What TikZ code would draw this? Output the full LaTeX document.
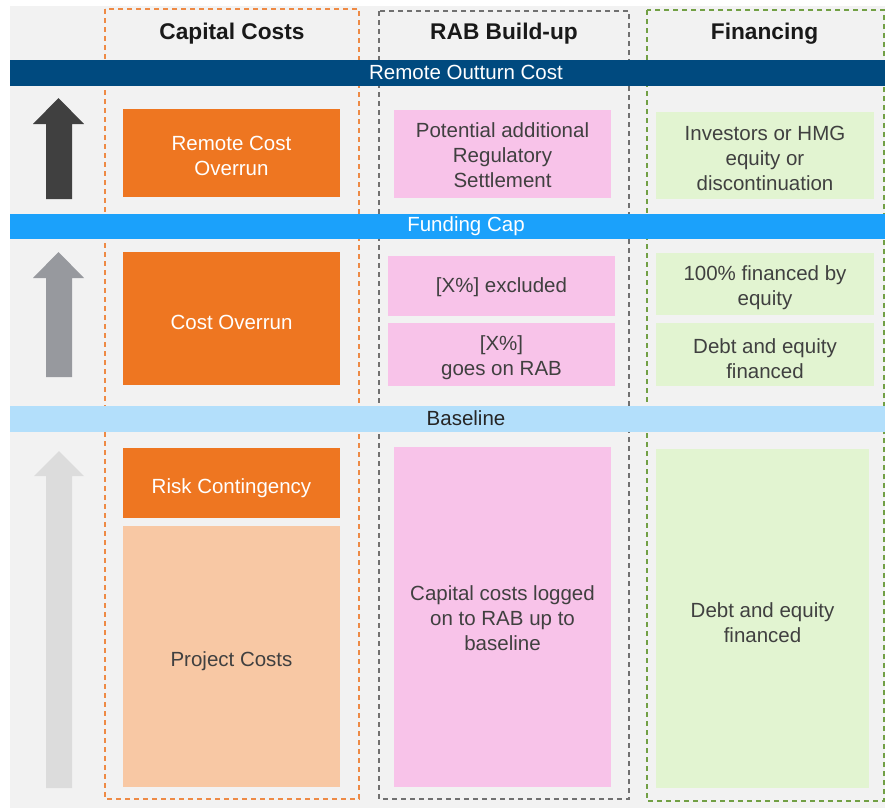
\documentclass[tikz,border=0pt]{standalone}
\usepackage{fontspec}
\setmainfont{Liberation Sans}
\definecolor{bgc}{HTML}{F2F2F2}
\definecolor{navyc}{HTML}{004A7F}
\definecolor{fundc}{HTML}{1BA1FB}
\definecolor{basec}{HTML}{B3DFFB}
\definecolor{orc}{HTML}{EE7621}
\definecolor{peachc}{HTML}{F8C8A4}
\definecolor{pinkc}{HTML}{F8C3E9}
\definecolor{greenc}{HTML}{E2F4D1}
\definecolor{arrdark}{HTML}{404040}
\definecolor{arrmid}{HTML}{97999E}
\definecolor{arrlight}{HTML}{DCDCDC}
\definecolor{txtc}{HTML}{404040}
\definecolor{orline}{HTML}{EE8A45}
\definecolor{greyline}{HTML}{707070}
\definecolor{greenline}{HTML}{72A045}
\begin{document}
\begin{tikzpicture}[x=1pt,y=-1pt,
  bodyfont/.style={font=\fontsize{20.5}{25}\selectfont},
  box/.style={rectangle, inner sep=0pt},
  boxtxt/.style={inner sep=0pt, align=center, bodyfont, text=txtc},
  colframe/.style={dashed, dash pattern=on 5pt off 4pt, line width=1.2pt},
  head/.style={font=\fontsize{22.7}{26}\selectfont\bfseries, text=black!90, inner sep=0pt},
  band/.style={rectangle, inner sep=0pt, minimum width=875pt, minimum height=26pt},
  bandtxt/.style={bodyfont, inner sep=0pt}
]
\useasboundingbox (0,0) rectangle (885,809);
\fill[white] (0,0) rectangle (885,809);
\fill[bgc] (10,6) rectangle (885,808);

% column frames
\draw[colframe, orline] (105,9) rectangle (359,799);
\draw[colframe, greyline] (379,11) rectangle (629,799);
\draw[colframe, greenline] (647,10) rectangle (884,801);

% headers
\node[head] (h1) at (232,34) {Capital Costs};
\node[head] (h2) at (504,34) {RAB Build-up};
\node[head] (h3) at (764.5,34) {Financing};

% bands
\node[band, fill=navyc] (b1) at (447.5,73) {};
\node[bandtxt, text=white] (b1t) at (466,72.5) {Remote Outturn Cost};
\node[band, fill=fundc, minimum height=25pt] (b2) at (447.5,226.5) {};
\node[bandtxt, text=white] (b2t) at (466,226.5) {Funding Cap};
\node[band, fill=basec] (b3) at (447.5,419) {};
\node[bandtxt, text=black!85] (b3t) at (466,418.5) {Baseline};

% arrows
\fill[arrdark] (58.5,98) -- (84,124) -- (72,124) -- (72,199) -- (46,199) -- (46,124) -- (33,124) -- cycle;
\fill[arrmid] (58.5,252) -- (84,278) -- (72,278) -- (72,377) -- (46,377) -- (46,278) -- (33,278) -- cycle;
\fill[arrlight] (59,451) -- (84,476) -- (72,476) -- (72,788) -- (46,788) -- (46,476) -- (34,476) -- cycle;

% capital costs column
\node[box, fill=orc, minimum width=217pt, minimum height=88pt] (rco) at (231.5,153) {};
\node[boxtxt, text=white] (rcot) at ([yshift=-3pt]rco.center) {Remote Cost\\Overrun};
\node[box, fill=orc, minimum width=217pt, minimum height=133pt] (co) at (231.5,318.5) {};
\node[boxtxt, text=white] (cot) at ([yshift=-4pt]co.center) {Cost Overrun};
\node[box, fill=orc, minimum width=217pt, minimum height=70pt] (rc) at (231.5,483) {};
\node[boxtxt, text=white] (rct) at ([yshift=-5pt]rc.center) {Risk Contingency};
\node[box, fill=peachc, minimum width=217pt, minimum height=261pt] (pc) at (231.5,656.5) {};
\node[boxtxt] (pct) at ([yshift=-5pt]pc.center) {Project Costs};

% RAB column
\node[box, fill=pinkc, minimum width=217pt, minimum height=88pt] (pars) at (502.5,154) {};
\node[boxtxt] (parst) at ([yshift=-1pt]pars.center) {Potential additional\\Regulatory\\Settlement};
\node[box, fill=pinkc, minimum width=227pt, minimum height=60pt] (xex) at (501.5,286) {};
\node[boxtxt] (xext) at ([yshift=-1pt]xex.center) {[X\%] excluded};
\node[box, fill=pinkc, minimum width=227pt, minimum height=63pt] (xrab) at (501.5,354.5) {};
\node[boxtxt] (xrabt) at ([yshift=-3pt]xrab.center) {[X\%]\\goes on RAB};
\node[box, fill=pinkc, minimum width=217pt, minimum height=340pt] (ccl) at (502.5,617) {};
\node[boxtxt] (cclt) at ([yshift=-1pt]ccl.center) {Capital costs logged\\on to RAB up to\\baseline};

% financing column
\node[box, fill=greenc, minimum width=218pt, minimum height=87pt] (inv) at (765,155.5) {};
\node[boxtxt] (invt) at ([yshift=-3pt]inv.center) {Investors or HMG\\equity or\\discontinuation};
\node[box, fill=greenc, minimum width=218pt, minimum height=62pt] (eq) at (765,284) {};
\node[boxtxt] (eqt) at ([yshift=-4pt]eq.center) {100\% financed by\\equity};
\node[box, fill=greenc, minimum width=218pt, minimum height=63pt] (de1) at (765,354.5) {};
\node[boxtxt] (de1t) at ([yshift=-4pt]de1.center) {Debt and equity\\financed};
\node[box, fill=greenc, minimum width=213pt, minimum height=339pt] (de2) at (762.5,618.5) {};
\node[boxtxt] (de2t) at ([yshift=-4pt]de2.center) {Debt and equity\\financed};
\end{tikzpicture}
\end{document}
